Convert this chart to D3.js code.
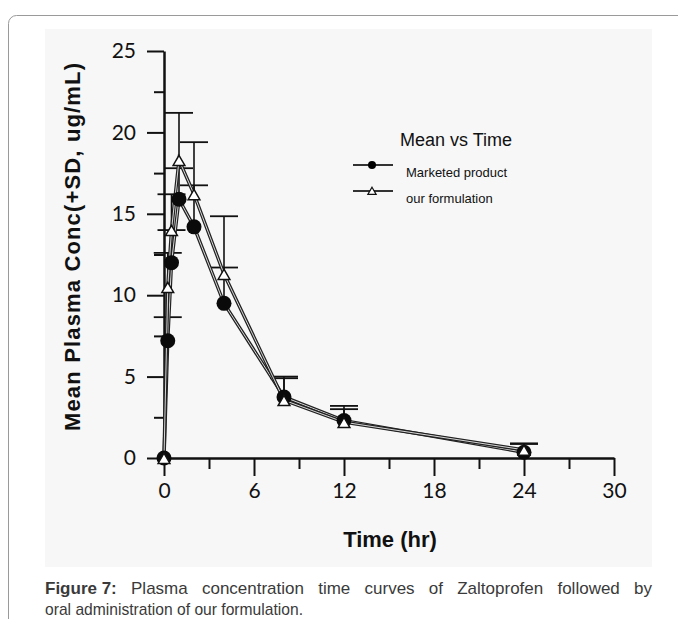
<!DOCTYPE html>
<html>
<head>
<meta charset="utf-8">
<script src="https://cdn.jsdelivr.net/npm/d3@7"></script>
<style>
  body { margin: 0; background: #fff; }
  svg { display: block; }
</style>
</head>
<body>
<svg id="chart" width="678" height="619"></svg>
<script>
// sampling times (hr)
const times = [0, 0.25, 0.5, 1, 2, 4, 8, 12, 24];
// Marketed product: mean and mean+SD
const marketedMean = [0, 7.2, 12.0, 15.9, 14.2, 9.5, 3.75, 2.3, 0.35];
const marketedTop = [0, 8.65, 14.0, 17.8, 16.75, 11.7, 4.9, 3.2, 0.86];
// our formulation: mean and mean+SD
const ourMean = [0, 10.5, 14.0, 18.3, 16.2, 11.3, 3.55, 2.2, 0.5];
const ourTop = [0, 12.6, 16.2, 21.2, 19.4, 14.85, 5.0, 3.0, 0.9];

const xTicks = [0, 6, 12, 18, 24, 30];
const xMinor = [3, 9, 15, 21, 27];
const yTicks = [0, 5, 10, 15, 20, 25];
const yMinor = [2.5, 7.5, 12.5, 17.5, 22.5];

const svg = d3.select('#chart');

// outer frame and grey panel
svg.append('rect').attr('x', 8.5).attr('y', 15.5).attr('width', 700).attr('height', 700)
    .attr('rx', 8).style('fill', '#fff').style('stroke', '#9a9a9a').style('stroke-width', 1);
svg.append('rect').attr('x', 45).attr('y', 29).attr('width', 607).attr('height', 538)
    .style('fill', '#f7f7f7');

const x = d3.scaleLinear().domain([0, 30]).range([164, 614]);
const y = d3.scaleLinear().domain([0, 25]).range([458, 51]);

const g = svg.append('g');
const tickFont = 'Lato, "Open Sans", sans-serif';

// y axis
g.append('g').attr('transform', `translate(${x(0)},0)`)
    .call(d3.axisLeft(y).tickValues(yTicks).tickSize(17).tickPadding(11).tickSizeOuter(0));
g.append('g').attr('transform', `translate(${x(0)},0)`)
    .call(d3.axisLeft(y).tickValues(yMinor).tickSize(10).tickFormat('').tickSizeOuter(0))
    .select('.domain').remove();

// x axis
g.append('g').attr('transform', `translate(0,${y(0)})`)
    .call(d3.axisBottom(x).tickValues(xTicks).tickSize(18).tickPadding(7).tickSizeOuter(0));
g.append('g').attr('transform', `translate(0,${y(0)})`)
    .call(d3.axisBottom(x).tickValues(xMinor).tickSize(11).tickFormat('').tickSizeOuter(0))
    .select('.domain').remove();

g.selectAll('.domain').style('stroke', '#111').style('stroke-width', 2.5);
g.selectAll('.tick line').style('stroke', '#111').style('stroke-width', 2);
g.selectAll('.tick text').style('font-family', tickFont).style('font-size', '21px').style('fill', '#111');

// axis titles
svg.append('text').attr('x', 390).attr('y', 547).attr('text-anchor', 'middle')
    .style('font-family', '"Liberation Sans", Arial, sans-serif').style('font-weight', 'bold')
    .style('font-size', '22px').style('fill', '#111').text('Time (hr)');
svg.append('text').attr('transform', 'translate(80,247) rotate(-90)').attr('text-anchor', 'middle')
    .attr('textLength', 368).attr('lengthAdjust', 'spacing')
    .style('font-family', '"Liberation Sans", Arial, sans-serif').style('font-weight', 'bold')
    .style('font-size', '22px').style('fill', '#111').text('Mean Plasma Conc(+SD, ug/mL)');

const series = [
    { name: 'Marketed product', mean: marketedMean, top: marketedTop, marker: 'circle' },
    { name: 'our formulation', mean: ourMean, top: ourTop, marker: 'triangle' }
];

const line = d3.line().x((d, i) => x(times[i])).y(d => y(d));
const triangle = d3.symbol().type(d3.symbolTriangle).size(60);

// error bars (upper SD only)
series.forEach(s => {
    const eb = g.append('g');
    times.forEach((t, i) => {
        if (s.top[i] <= s.mean[i]) return;
        eb.append('line').attr('x1', x(t)).attr('x2', x(t)).attr('y1', y(s.mean[i])).attr('y2', y(s.top[i]))
            .style('stroke', '#111').style('stroke-width', 1.6);
        eb.append('line').attr('x1', x(t) - 14).attr('x2', x(t) + 14).attr('y1', y(s.top[i])).attr('y2', y(s.top[i]))
            .style('stroke', '#111').style('stroke-width', 1.8);
    });
});

// lines, drawn as a double stroke like the original
series.forEach(s => {
    g.append('path').datum(s.mean).attr('d', line)
        .style('fill', 'none').style('stroke', '#222').style('stroke-width', 3.4);
    g.append('path').datum(s.mean).attr('d', line)
        .style('fill', 'none').style('stroke', '#d8d8d8').style('stroke-width', 1);
});

// markers
g.append('g').selectAll('circle').data(marketedMean).join('circle')
    .attr('cx', (d, i) => x(times[i])).attr('cy', d => y(d)).attr('r', 7.5)
    .style('fill', '#0a0a0a');
g.append('g').selectAll('path').data(ourMean).join('path')
    .attr('d', triangle)
    .attr('transform', (d, i) => `translate(${x(times[i])},${y(d) + 2})`)
    .style('fill', '#fff').style('stroke', '#111').style('stroke-width', 1.5);

// legend
const lg = svg.append('g');
lg.append('text').attr('x', 400).attr('y', 146)
    .style('font-family', '"Liberation Sans", Arial, sans-serif').style('font-size', '18px')
    .style('fill', '#111').text('Mean vs Time');
series.forEach((s, i) => {
    const ly = 165 + i * 26;
    lg.append('line').attr('x1', 353).attr('x2', 393).attr('y1', ly).attr('y2', ly)
        .style('stroke', '#333').style('stroke-width', 1.8);
    if (s.marker === 'circle') {
        lg.append('circle').attr('cx', 372).attr('cy', ly).attr('r', 4).style('fill', '#000');
    } else {
        lg.append('path').attr('d', d3.symbol().type(d3.symbolTriangle).size(30))
            .attr('transform', `translate(372,${ly + 1})`)
            .style('fill', '#fff').style('stroke', '#111').style('stroke-width', 1.2);
    }
    lg.append('text').attr('x', 406).attr('y', ly + 12)
        .style('font-family', '"Liberation Sans", Arial, sans-serif').style('font-size', '13px')
        .style('fill', '#111').text(s.name);
});

// caption, first line justified with word spacing (not inside "Figure 7:")
const cap = svg.append('g')
    .style('font-family', '"Liberation Sans", Arial, sans-serif')
    .style('font-size', '17px').style('fill', '#3a3a3a');
const l1 = cap.append('text').attr('x', 45).attr('y', 594);
l1.append('tspan').style('font-weight', 'bold').text('Figure 7:');
const rest = l1.append('tspan').text(' Plasma concentration time curves of Zaltoprofen followed by');
const natural = l1.node().getComputedTextLength();
rest.style('word-spacing', `${Math.max(0, (607 - natural) / 8)}px`);
cap.append('text').attr('x', 45).attr('y', 615)
    .attr('textLength', 258).attr('lengthAdjust', 'spacingAndGlyphs')
    .text('oral administration of our formulation.');
</script>
</body>
</html>
